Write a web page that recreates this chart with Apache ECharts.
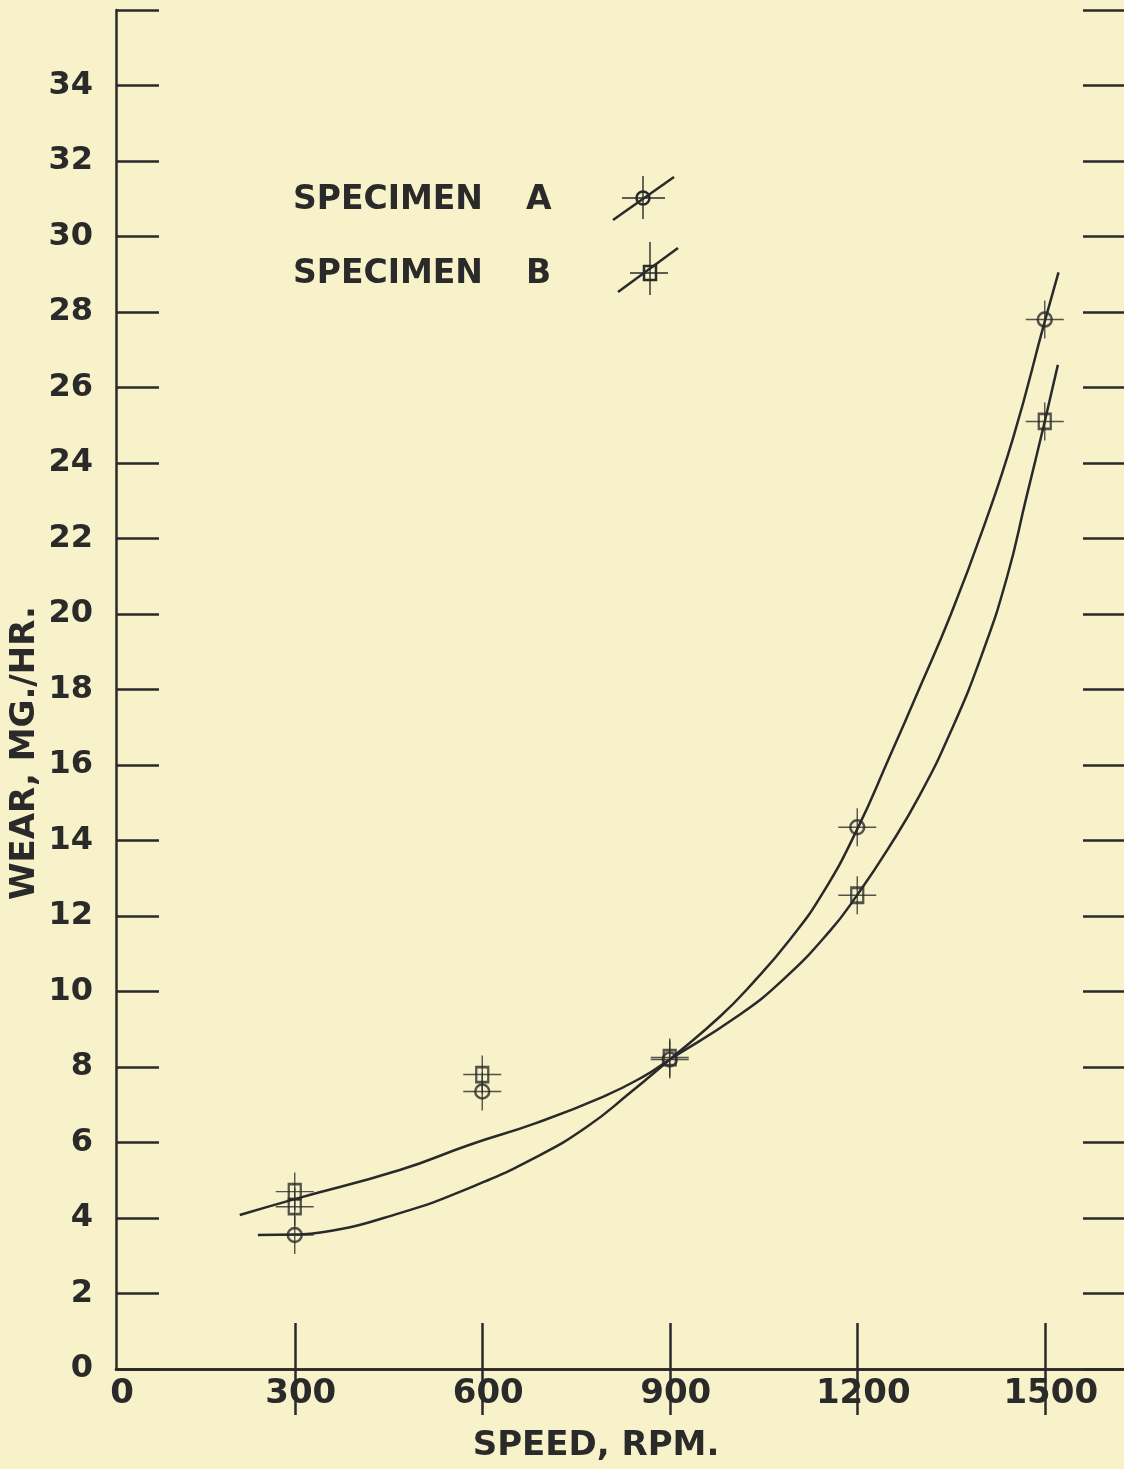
<!DOCTYPE html>
<html>
<head>
<meta charset="utf-8">
<script src="https://cdn.jsdelivr.net/npm/echarts@6/dist/echarts.min.js"></script>
<style>
html,body{margin:0;padding:0;background:#f7f2c9;}
#chart{width:1124px;height:1469px;}
</style>
</head>
<body>
<div id="chart"></div>
<script>
// ---- data ----
const xTickValues = [300, 600, 900, 1200, 1500];
const xLabelValues = [14, 300, 600, 900, 1200, 1500];
const yTickMax = 36;

const pointsA = [[300, 3.55], [600, 7.35], [900, 8.2], [1200, 14.35], [1500, 27.8]];
const pointsB = [[300, 4.7], [300, 4.3], [600, 7.8], [900, 8.25], [1200, 12.55], [1500, 25.1]];

const curveA = [[241, 3.55], [300, 3.56], [344, 3.62], [468, 4.13], [580, 4.8], [687, 5.62], [767, 6.41],
  [836, 7.31], [900, 8.2], [980, 9.33], [1033, 10.23], [1092, 11.37], [1145, 12.61], [1200, 14.3],
  [1250, 16.15], [1300, 18.05], [1350, 20.0], [1400, 22.2], [1450, 24.7], [1500, 27.75], [1522, 29.05]];
const curveB = [[212, 4.08], [300, 4.5], [468, 5.27], [580, 5.94], [687, 6.52], [793, 7.21], [857, 7.74],
  [900, 8.2], [1007, 9.33], [1081, 10.31], [1156, 11.6], [1200, 12.56], [1250, 13.8], [1300, 15.2],
  [1350, 16.9], [1400, 18.95], [1440, 21.0], [1470, 23.05], [1500, 25.1], [1521, 26.6]];

const legendNames = ['SPECIMEN', 'A', 'B'];
const xTitle = 'SPEED, RPM.';
const yTitle = 'WEAR, MG./HR.';

// ---- styling ----
const ink = '#2a2a2a';
const font = 'DejaVu Sans';
const xMin = 14, xMax = 1630;
const crossPath = 'path://M0 19 L38 19 M19 0 L19 38';

const chart = echarts.init(document.getElementById('chart'), null, {renderer: 'canvas'});

const commonX = {
  type: 'value', min: xMin, max: xMax,
  splitLine: {show: false},
  axisLine: {show: true, lineStyle: {color: ink, width: 2.5}},
  axisTick: {show: true, inside: true, length: 46, customValues: xTickValues, lineStyle: {color: ink, width: 2.5}}
};
const commonY = {
  type: 'value', min: 0, max: yTickMax, interval: 2,
  splitLine: {show: false},
  axisLine: {show: true, lineStyle: {color: ink, width: 2.5}},
  axisTick: {show: true, inside: true, length: 43, lineStyle: {color: ink, width: 2.5}}
};

const option = {
  backgroundColor: '#f7f2c9',
  animation: false,
  grid: {left: 116, top: 10, width: 1010, height: 1359, containLabel: false, outerBoundsMode: 'none'},
  xAxis: [
    Object.assign({}, commonX, {
      position: 'bottom',
      axisLabel: {
        show: true, customValues: xLabelValues, margin: 8, padding: [0, 0, 0, 12],
        color: ink, fontFamily: font, fontWeight: 'bold', fontSize: 34,
        formatter: v => (v < 100 ? '0' : String(v))
      }
    }),
    Object.assign({}, commonX, {position: 'top', axisLabel: {show: false}})
  ],
  yAxis: [
    Object.assign({}, commonY, {
      position: 'left',
      axisLabel: {
        show: true, margin: 23, color: ink, fontFamily: font, fontWeight: 'bold', fontSize: 32,
        formatter: v => (v >= yTickMax ? '' : String(v))
      }
    }),
    Object.assign({}, commonY, {position: 'right', axisLabel: {show: false}})
  ],
  series: [
    {type: 'line', name: 'A curve', data: curveA, xAxisIndex: 0, yAxisIndex: 0, showSymbol: false,
      smooth: 0.5, lineStyle: {color: ink, width: 2.5}, silent: true, z: 2},
    {type: 'line', name: 'B curve', data: curveB, xAxisIndex: 0, yAxisIndex: 0, showSymbol: false,
      smooth: 0.5, lineStyle: {color: ink, width: 2.5}, silent: true, z: 2},
    {type: 'scatter', name: 'A cross', data: pointsA, symbol: crossPath, symbolSize: 38, silent: true, z: 3,
      itemStyle: {color: 'rgba(0,0,0,0)', borderColor: ink, borderWidth: 1.4}},
    {type: 'scatter', name: 'B cross', data: pointsB, symbol: crossPath, symbolSize: 38, silent: true, z: 3,
      itemStyle: {color: 'rgba(0,0,0,0)', borderColor: ink, borderWidth: 1.4}},
    {type: 'scatter', name: 'SPECIMEN A', data: pointsA, symbol: 'circle', symbolSize: 14, silent: true, z: 4,
      itemStyle: {color: 'rgba(0,0,0,0)', borderColor: ink, borderWidth: 2.5}},
    {type: 'scatter', name: 'SPECIMEN B', data: pointsB, symbol: 'rect', symbolSize: [12, 15], silent: true, z: 4,
      itemStyle: {color: 'rgba(0,0,0,0)', borderColor: ink, borderWidth: 2.5}}
  ],
  graphic: [
    // axis titles
    {type: 'text', x: 596, y: 1446, style: {text: xTitle, fill: ink, font: 'bold 34px "DejaVu Sans"', align: 'center', verticalAlign: 'middle'}},
    {type: 'text', x: 25, y: 753, rotation: Math.PI / 2, style: {text: yTitle, fill: ink, font: 'bold 34px "DejaVu Sans"', align: 'center', verticalAlign: 'middle'}},
    // legend A
    {type: 'text', x: 293, y: 200, style: {text: legendNames[0], fill: ink, font: 'bold 33px "DejaVu Sans"', align: 'left', verticalAlign: 'middle'}},
    {type: 'text', x: 526, y: 200, style: {text: legendNames[1], fill: ink, font: 'bold 33px "DejaVu Sans"', align: 'left', verticalAlign: 'middle'}},
    {type: 'line', shape: {x1: 613, y1: 220, x2: 674, y2: 177}, style: {stroke: ink, lineWidth: 2.5}},
    {type: 'line', shape: {x1: 622, y1: 198, x2: 665, y2: 198}, style: {stroke: ink, lineWidth: 1.4}},
    {type: 'line', shape: {x1: 643, y1: 176, x2: 643, y2: 219}, style: {stroke: ink, lineWidth: 1.4}},
    {type: 'circle', shape: {cx: 643, cy: 198, r: 6.5}, style: {fill: 'none', stroke: ink, lineWidth: 2.5}},
    // legend B
    {type: 'text', x: 293, y: 274, style: {text: legendNames[0], fill: ink, font: 'bold 33px "DejaVu Sans"', align: 'left', verticalAlign: 'middle'}},
    {type: 'text', x: 526, y: 274, style: {text: legendNames[2], fill: ink, font: 'bold 33px "DejaVu Sans"', align: 'left', verticalAlign: 'middle'}},
    {type: 'line', shape: {x1: 618, y1: 292, x2: 678, y2: 248}, style: {stroke: ink, lineWidth: 2.5}},
    {type: 'line', shape: {x1: 630, y1: 273, x2: 668, y2: 273}, style: {stroke: ink, lineWidth: 1.4}},
    {type: 'line', shape: {x1: 650, y1: 242, x2: 650, y2: 295}, style: {stroke: ink, lineWidth: 1.4}},
    {type: 'rect', shape: {x: 644, y: 266, width: 12, height: 14}, style: {fill: 'none', stroke: ink, lineWidth: 2.5}}
  ]
};
chart.setOption(option);
</script>
</body>
</html>
